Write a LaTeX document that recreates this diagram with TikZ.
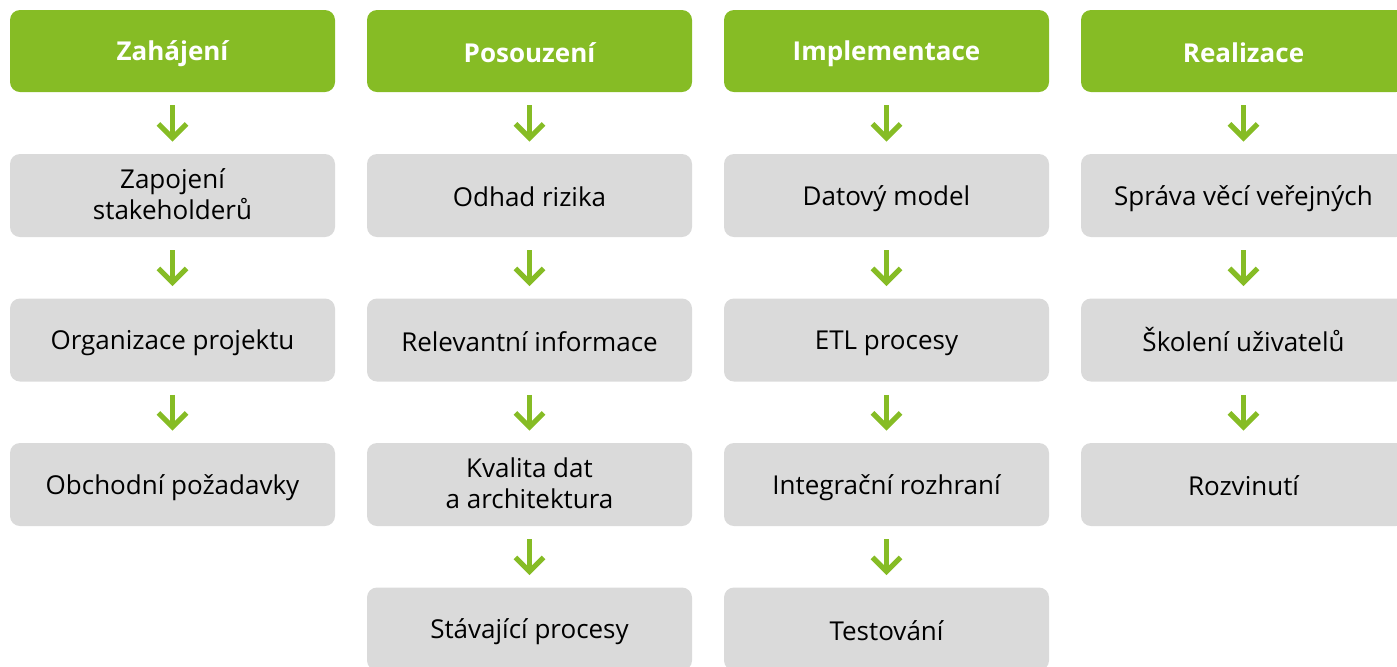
\documentclass[tikz,border=0pt]{standalone}
\usepackage{fontspec}
\setmainfont{Open Sans}
\usepackage{xcolor}
\usepackage{tikz}
\usetikzlibrary{arrows.meta}
\definecolor{phasegreen}{HTML}{86BC25}
\definecolor{stepgrey}{HTML}{DADADA}
\newcommand\boxstrut{\rule[-1.7pt]{0pt}{14.7pt}}
\tikzset{phase/.style={rectangle,rounded corners=5pt,fill=phasegreen,text=white,font=\bfseries\fontsize{13}{15.5}\selectfont,minimum width=162.5pt,minimum height=41pt,inner sep=0pt,execute at begin node=\boxstrut},
  stepbox/.style={rectangle,rounded corners=5pt,fill=stepgrey,text=black,font=\fontsize{13}{15.5}\selectfont,align=center,minimum width=162.5pt,minimum height=41.5pt,inner sep=0pt,execute at begin node=\boxstrut,execute at end node=\boxstrut},
  arr/.style={draw=phasegreen,line width=2.6pt,-{Straight Barb[length=7pt,width=14pt]}}}

\begin{document}
\begin{tikzpicture}[x=0.5pt,y=-0.5pt]
    \clip (0,0) rectangle (1397,666);
    \useasboundingbox (0,0) rectangle (1397,666);
    % phases
    \node[phase] (z0) at (172.5,51) {Zahájení};
    \node[phase] (p0) at (529.5,51) {Posouzení};
    \node[phase] (i0) at (886.5,51) {Implementace};
    \node[phase] (r0) at (1243.5,51) {Realizace};

    % steps
    \node[stepbox] (z1) at (172.5,195.5) {Zapojení\\stakeholderů};
    \node[stepbox] (z2) at (172.5,340) {Organizace projektu};
    \node[stepbox] (z3) at (172.5,484.5) {Obchodní požadavky};

    \node[stepbox] (p1) at (529.5,195.5) {Odhad rizika};
    \node[stepbox] (p2) at (529.5,340) {Relevantní informace};
    \node[stepbox] (p3) at (529.5,484.5) {Kvalita dat\\a architektura};
    \node[stepbox] (p4) at (529.5,629) {Stávající procesy};

    \node[stepbox] (i1) at (886.5,195.5) {Datový model};
    \node[stepbox] (i2) at (886.5,340) {ETL procesy};
    \node[stepbox] (i3) at (886.5,484.5) {Integrační rozhraní};
    \node[stepbox] (i4) at (886.5,629) {Testování};

    \node[stepbox] (r1) at (1243.5,195.5) {Správa věcí veřejných};
    \node[stepbox] (r2) at (1243.5,340) {Školení uživatelů};
    \node[stepbox] (r3) at (1243.5,484.5) {Rozvinutí};

    \foreach \a/\b in {z0/z1,z1/z2,z2/z3,p0/p1,p1/p2,p2/p3,p3/p4,i0/i1,i1/i2,i2/i3,i3/i4,r0/r1,r1/r2,r2/r3}
      \draw[arr] ([yshift=-6.5pt]\a.south) -- ([yshift=6pt]\b.north);
\end{tikzpicture}
\end{document}
